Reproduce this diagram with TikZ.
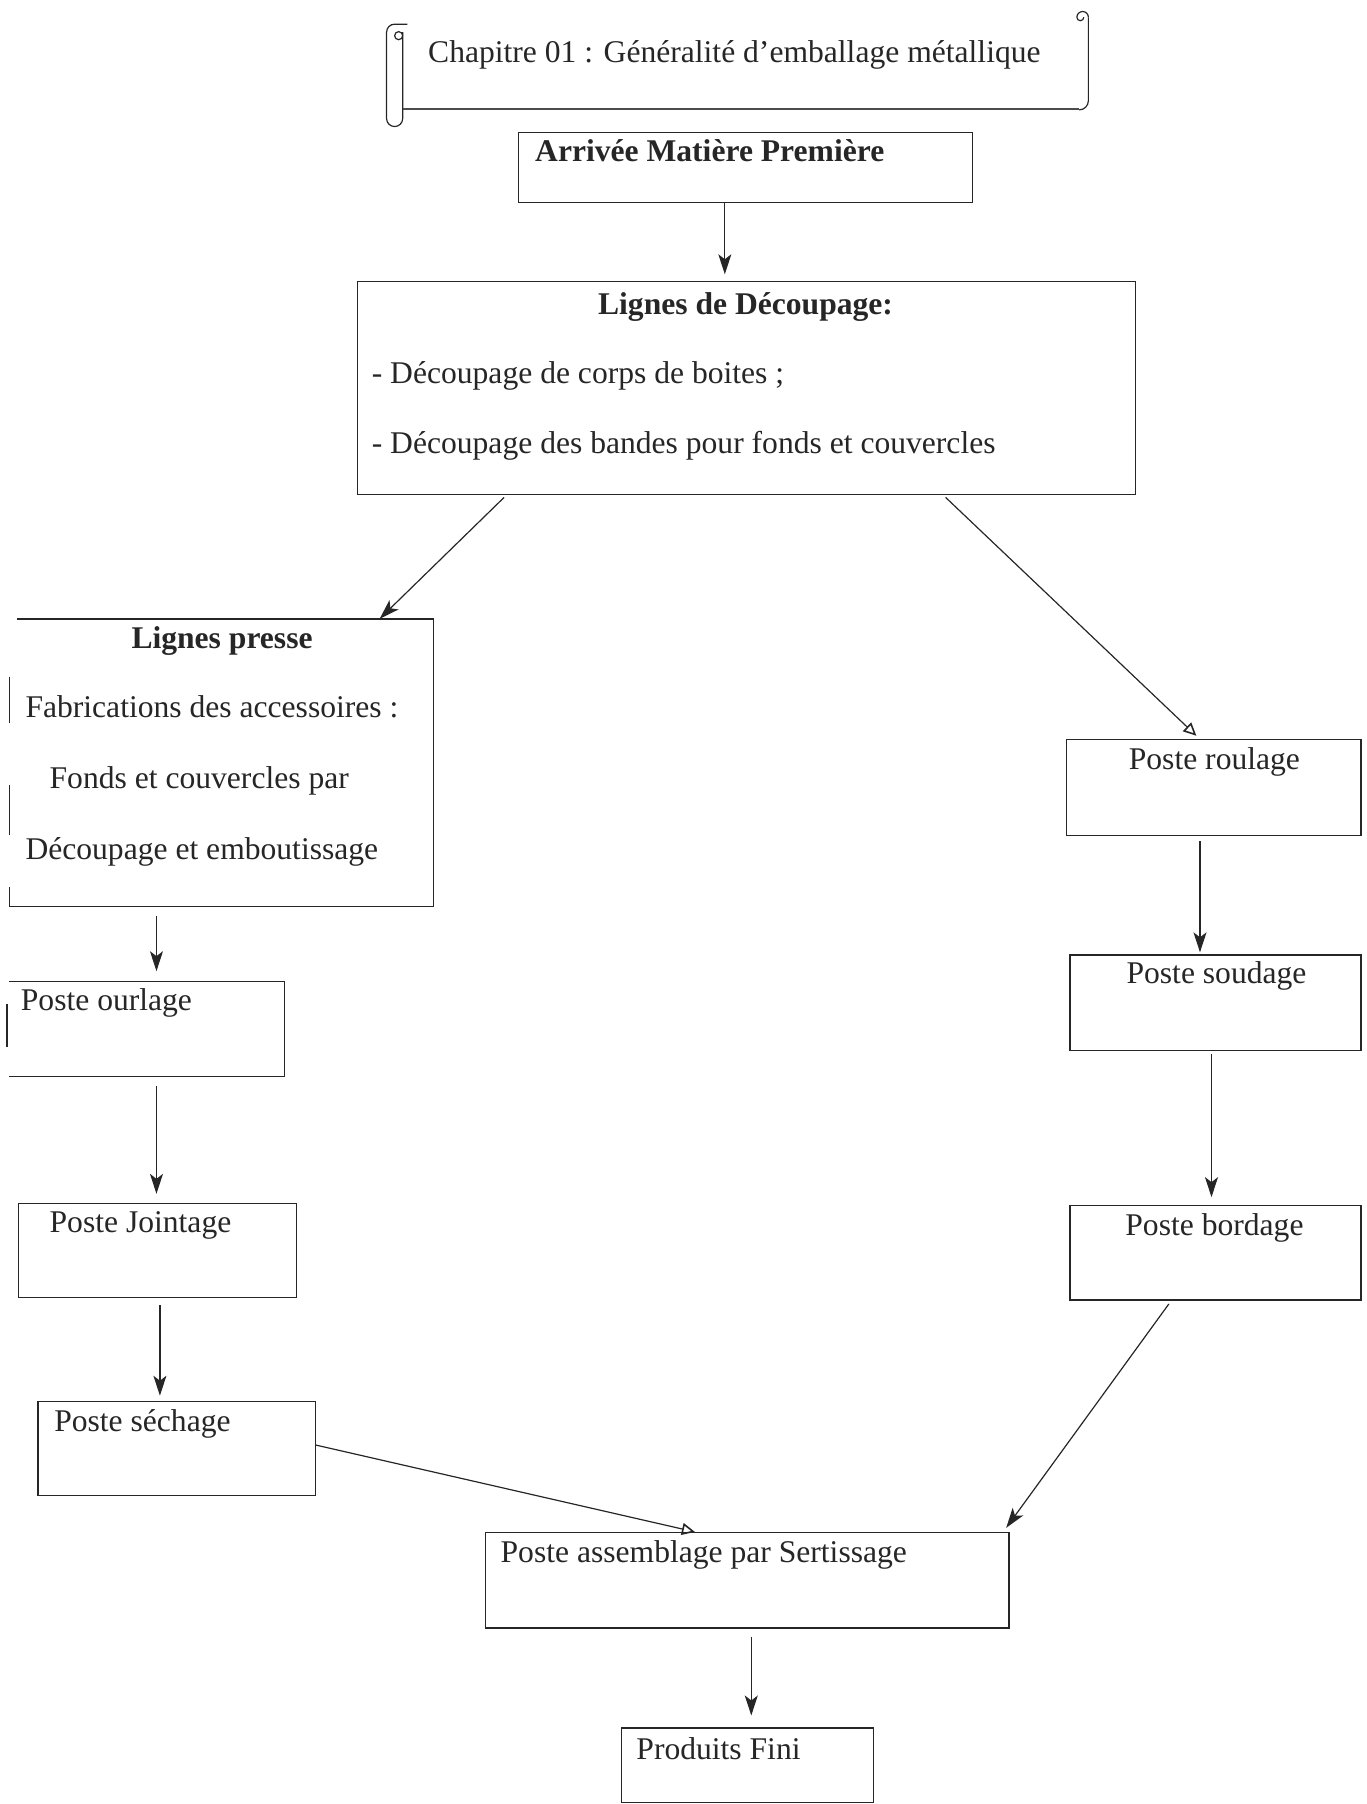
\documentclass[tikz,border=0pt]{standalone}
\usepackage{fontspec}
\setmainfont{Liberation Serif}
\usetikzlibrary{arrows.meta,fit}
\begin{document}
\begin{tikzpicture}[x=1.1507pt,y=-1.1507pt,
  ink/.style={draw=black!85,line width=1.2pt},
  box/.style={ink,rectangle,inner sep=0pt},
  hid/.style={rectangle,inner sep=0pt},
  txt/.style={inner sep=0pt,anchor=base west,font=\fontsize{31.6}{36}\selectfont,text=black!85},
  ttl/.style={inner sep=0pt,anchor=base,font=\fontsize{31.6}{36}\selectfont\bfseries,text=black!85},
  arw/.style={ink,-{Stealth[length=20pt,width=13pt,inset=5pt]}},
  oarw/.style={ink,-{Triangle[open,length=13pt,width=12pt,line width=1.6pt]}}]
\useasboundingbox (0,0) rectangle (1188,1568);
% banner scroll
\node[hid,fit={(336,10) (946,110)}] (ban) {};
\draw[ink] (336,28) -- (336,103) arc[start angle=180,end angle=0,radius=7] -- (350,28);
\draw[ink] (336,28) arc[start angle=180,end angle=270,radius=7] -- (354,21);
\draw[ink] (350,31) arc[start angle=0,end angle=360,radius=3.5];
\draw[ink,line width=1.8pt,draw=black!70] (350,95) -- (938,95);
\draw[ink] (938,95.5) arc[start angle=90,end angle=0,radius=8] -- (946,15);
\draw[ink] (946,15) arc[start angle=0,end angle=-180,radius=5] arc[start angle=180,end angle=0,radius=3];
\node[txt] (tban) at (372,54) {Chapitre 01 : Généralité d’emballage métallique};
% boxes
\node[box,fit={(451,115) (845,176)}] (arr) {};
\node[txt,font=\fontsize{31.6}{36}\selectfont\bfseries] (tarr) at (465,140) {Arrivée Matière Première};
\node[box,fit={(311,245) (987,430)}] (dec) {};
\node[ttl] (tdec) at (648,273) {Lignes de Découpage:};
\node[txt] (tdec1) at (323,333) {- Découpage de corps de boites ;};
\node[txt] (tdec2) at (323,394) {- Découpage des bandes pour fonds et couvercles};
% Lignes presse (broken left edge)
\node[hid,fit={(8,538) (377,788)}] (pres) {};
\draw[ink] (15,538) -- (377,538) -- (377,788) -- (8,788) -- (8,771);
\draw[ink] (8,588) -- (8,628);
\draw[ink] (8,682) -- (8,726);
\node[ttl] (tpres) at (193,564) {Lignes presse};
\node[txt] (tpres1) at (22,624) {Fabrications des accessoires :};
\node[txt] (tpres2) at (43,685) {Fonds et couvercles par};
\node[txt] (tpres3) at (22,747) {Découpage et emboutissage};
% Poste ourlage (broken left edge)
\node[hid,fit={(6,853) (247,936)}] (ourl) {};
\draw[ink] (8,853) -- (247,853) -- (247,936) -- (8,936);
\draw[ink] (6,873) -- (6,910);
\node[txt] (tourl) at (18,878) {Poste ourlage};
\node[box,fit={(16,1046) (258,1128)}] (joint) {};
\node[txt] (tjoint) at (43,1071) {Poste Jointage};
\node[box,fit={(33,1218) (274,1300)}] (sech) {};
\node[txt] (tsech) at (47,1244) {Poste séchage};
\node[box,fit={(927,643) (1183,726)}] (roul) {};
\node[txt] (troul) at (981,669) {Poste roulage};
\node[box,fit={(930,830) (1183,913)}] (soud) {};
\node[txt] (tsoud) at (979,855) {Poste soudage};
\node[box,fit={(930,1048) (1183,1130)}] (bord) {};
\node[txt] (tbord) at (978,1074) {Poste bordage};
\node[box,fit={(422,1332) (877,1415)}] (assem) {};
\node[txt] (tassem) at (435,1358) {Poste assemblage par Sertissage};
\node[box,fit={(540,1502) (759,1567)}] (prod) {};
\node[txt] (tprod) at (553,1529) {Produits Fini};
% connectors
\draw[arw,shorten >=7pt] (arr.south -| 630,0) -- (dec.north -| 630,0);
\draw[arw,shorten <=3pt] (dec.south -| 440,0) -- (pres.north -| 330,0);
\draw[oarw,shorten <=3pt,shorten >=5pt] (dec.south -| 820,0) -- (roul.north -| 1043,0);
\draw[arw,shorten <=5pt,shorten >=2pt] (roul.south -| 1043,0) -- (soud.north -| 1043,0);
\draw[arw,shorten <=3pt,shorten >=8pt] (soud.south -| 1053,0) -- (bord.north -| 1053,0);
\draw[arw,shorten <=4pt,shorten >=5pt] (bord.south -| 1018,0) -- (assem.north -| 872,0);
\draw[arw,shorten <=9pt,shorten >=10pt] (pres.south -| 136,0) -- (ourl.north -| 136,0);
\draw[arw,shorten <=9pt,shorten >=9pt] (ourl.south -| 136,0) -- (joint.north -| 136,0);
\draw[arw,shorten <=7pt,shorten >=5pt] (joint.south -| 139,0) -- (sech.north -| 139,0);
\draw[oarw] (sech.east |- 0,1256) -- (assem.north -| 604,0);
\draw[arw,shorten <=8pt,shorten >=12pt] (assem.south -| 653,0) -- (prod.north -| 653,0);
\end{tikzpicture}
\end{document}
